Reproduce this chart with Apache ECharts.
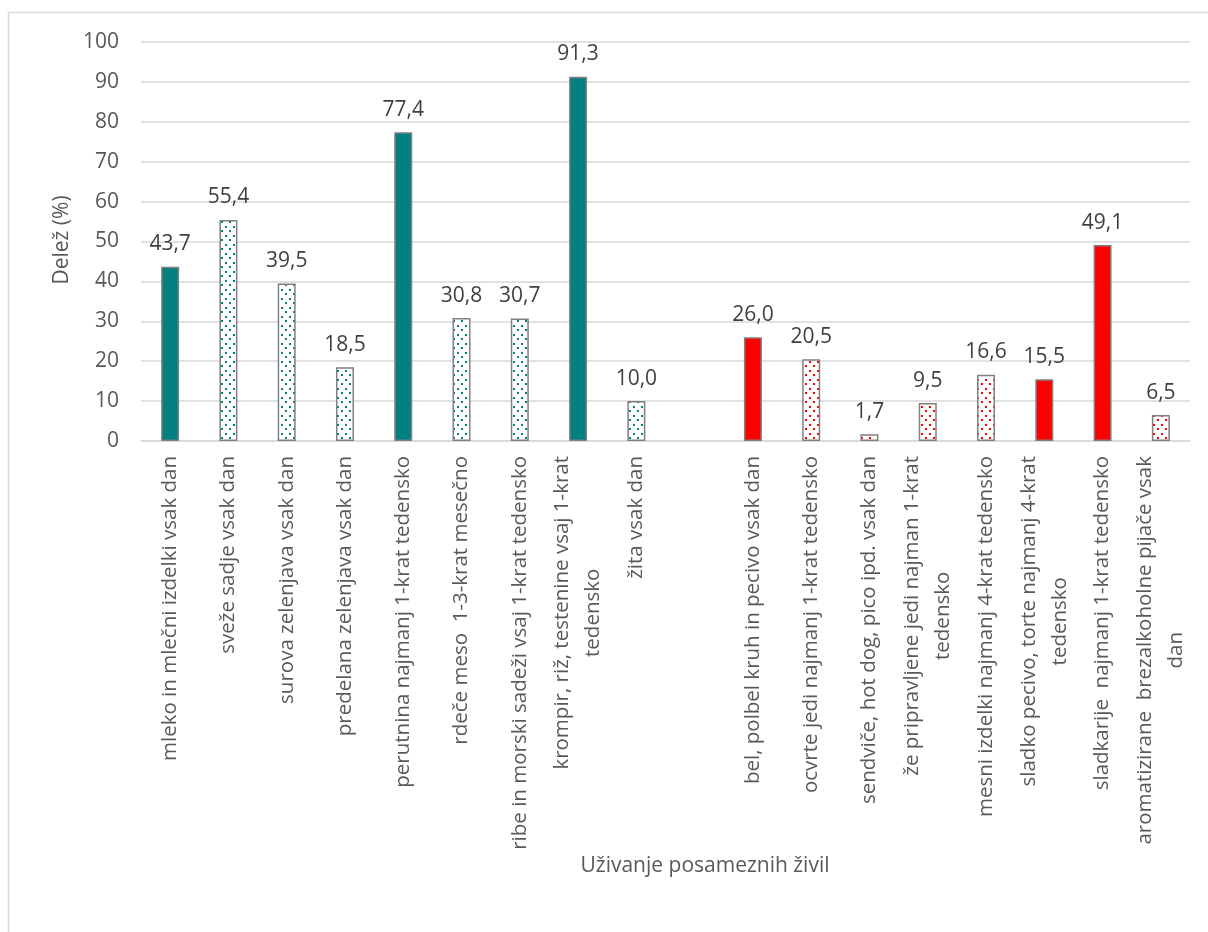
<!DOCTYPE html>
<html>
<head>
<meta charset="utf-8">
<script src="https://cdn.jsdelivr.net/npm/echarts@6/dist/echarts.min.js"></script>
<style>
  html, body { margin: 0; padding: 0; background: #ffffff; }
  #chart { width: 1208px; height: 932px; }
</style>
</head>
<body>
<div id="chart"></div>
<script>
// Food groups (an empty slot separates the two groups)
const categories = [
  'mleko in mlečni izdelki vsak dan',
  'sveže sadje vsak dan',
  'surova zelenjava vsak dan',
  'predelana zelenjava vsak dan',
  'perutnina najmanj 1-krat tedensko',
  'rdeče meso  1-3-krat mesečno',
  'ribe in morski sadeži vsaj 1-krat tedensko',
  'krompir, riž, testenine vsaj 1-krat\ntedensko',
  'žita vsak dan',
  '',
  'bel, polbel kruh in pecivo vsak dan',
  'ocvrte jedi najmanj 1-krat tedensko',
  'sendviče, hot dog, pico ipd. vsak dan',
  'že pripravljene jedi najman 1-krat\ntedensko',
  'mesni izdelki najmanj 4-krat tedensko',
  'sladko pecivo, torte najmanj 4-krat\ntedensko',
  'sladkarije  najmanj 1-krat tedensko',
  'aromatizirane  brezalkoholne pijače vsak\ndan'
];

// Share of respondents (%)
const shares = [43.7, 55.4, 39.5, 18.5, 77.4, 30.8, 30.7, 91.3, 10.0, null,
                26.0, 20.5, 1.7, 9.5, 16.6, 15.5, 49.1, 6.5];

// Y axis ticks
const yTicks = [0, 10, 20, 30, 40, 50, 60, 70, 80, 90, 100];

const yAxisTitle = 'Delež (%)';
const xAxisTitle = 'Uživanje posameznih živil';

// ---- styling ----
const TEAL = '#008080';
const RED = '#ff0000';
const FONT = '"Open Sans", "Noto Sans", sans-serif';
const FS = 21;
const firstRedIndex = 10;                   // items from here on are drawn in red
const solidIndices = [0, 4, 7, 10, 15, 16]; // solid fill, the rest are dotted

function dotPattern(color) {
  const c = document.createElement('canvas');
  c.width = 8; c.height = 9;
  const ctx = c.getContext('2d');
  ctx.fillStyle = '#ffffff';
  ctx.fillRect(0, 0, 8, 9);
  ctx.fillStyle = color;
  ctx.fillRect(1, 1, 2, 2);
  ctx.fillRect(5, 5, 2, 2);
  return { image: c, repeat: 'repeat' };
}
const patterns = { teal: dotPattern(TEAL), red: dotPattern(RED) };

const seriesData = shares.map((v, i) => {
  if (v === null) return '-';
  const red = i >= firstRedIndex;
  const solid = solidIndices.indexOf(i) >= 0;
  const fill = solid ? (red ? RED : TEAL) : (red ? patterns.red : patterns.teal);
  return { value: v, itemStyle: { color: fill } };
});

const chart = echarts.init(document.getElementById('chart'), null, { renderer: 'canvas' });

chart.setOption({
  backgroundColor: '#ffffff',
  animation: false,
  grid: { left: 141, right: 18, top: 42, bottom: 491, containLabel: false },
  xAxis: {
    type: 'category',
    data: categories,
    axisLine: { lineStyle: { color: '#d9d9d9', width: 1.5 } },
    axisTick: { show: false },
    axisLabel: {
      interval: 0,
      rotate: 90,
      margin: 15,
      formatter: (val) => val ? val.split('\n').map(s => '{c|' + s + '}').join('\n') : '',
      rich: {
        c: { align: 'center', fontFamily: FONT, fontSize: 20.5, lineHeight: 31, color: '#595959' }
      }
    }
  },
  yAxis: {
    type: 'value',
    min: yTicks[0],
    max: yTicks[yTicks.length - 1],
    interval: yTicks[1] - yTicks[0],
    axisLine: { show: false },
    axisTick: { show: false },
    splitLine: { lineStyle: { color: '#d9d9d9', width: 1.5 } },
    axisLabel: { margin: 22, fontFamily: FONT, fontSize: FS, color: '#595959' }
  },
  series: [{
    type: 'bar',
    data: seriesData,
    barWidth: 18,
    itemStyle: { borderColor: '#808080', borderWidth: 1.5 },
    label: {
      show: true,
      position: 'top',
      distance: 12,
      fontFamily: FONT,
      fontSize: FS,
      color: '#404040',
      formatter: (p) => Number(p.value).toFixed(1).replace('.', ',')
    }
  }],
  graphic: [
    {
      type: 'rect',
      shape: { x: 8.5, y: 12.5, width: 1400, height: 1200 },
      style: { fill: 'none', stroke: '#d9d9d9', lineWidth: 1.5 },
      silent: true
    },
    {
      type: 'text',
      x: 62, y: 240,
      rotation: Math.PI / 2,
      style: { text: yAxisTitle, fontFamily: FONT, fontSize: FS, fill: '#595959', align: 'center', verticalAlign: 'middle' }
    },
    {
      type: 'text',
      x: 705, y: 866,
      style: { text: xAxisTitle, fontFamily: FONT, fontSize: FS, fill: '#595959', align: 'center', verticalAlign: 'middle' }
    }
  ]
});
</script>
</body>
</html>
